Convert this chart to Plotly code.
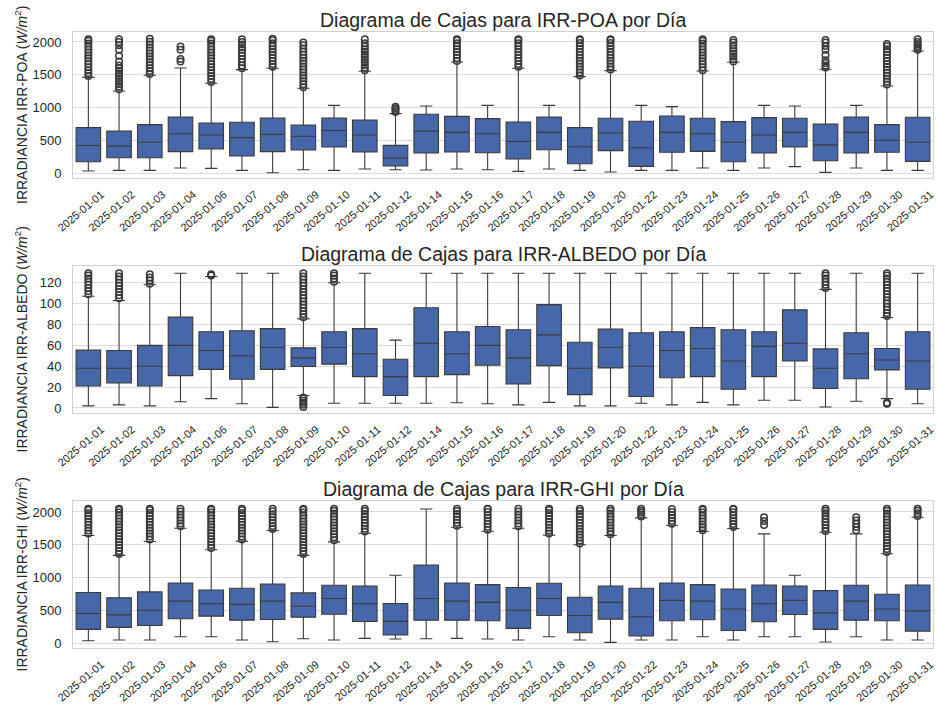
import plotly.graph_objects as go

days = ["2025-01-01", "2025-01-02", "2025-01-03", "2025-01-04", "2025-01-06", "2025-01-07",
        "2025-01-08", "2025-01-09", "2025-01-10", "2025-01-11", "2025-01-12", "2025-01-14",
        "2025-01-15", "2025-01-16", "2025-01-17", "2025-01-18", "2025-01-19", "2025-01-20",
        "2025-01-22", "2025-01-23", "2025-01-24", "2025-01-25", "2025-01-26", "2025-01-27",
        "2025-01-28", "2025-01-29", "2025-01-30", "2025-01-31"]

# ---------------- IRR-POA ----------------
poa_q1 = [173, 234, 234, 326, 366, 260, 326, 351, 397, 321, 107, 305, 321, 310, 214, 356, 142, 341,
          102, 316, 331, 173, 305, 397, 188, 305, 316, 178]
poa_med = [420, 410, 470, 600, 580, 540, 590, 560, 650, 580, 230, 640, 620, 600, 480, 620, 400, 610,
           385, 620, 600, 470, 580, 620, 430, 620, 500, 470]
poa_q3 = [692, 641, 738, 855, 763, 774, 840, 733, 840, 809, 422, 896, 865, 830, 779, 855, 692, 835,
          789, 870, 835, 784, 845, 835, 748, 855, 738, 850]
poa_low = [30, 41, 41, 76, 71, 41, 5, 51, 41, 61, 51, 46, 61, 51, 25, 61, 41, 15,
           41, 41, 76, 41, 76, 97, 10, 76, 41, 41]
poa_high = [1460, 1252, 1491, 1603, 1369, 1578, 1598, 1293, 1033, 1552, 906, 1023, 1695, 1033, 1598,
            1033, 1471, 1562, 1033, 1013, 1557, 1690, 1033, 1023, 1583, 1033, 1328, 1863]
poa_out = {
    "2025-01-01": [1480, 1525, 1570, 1615, 1660, 1705, 1750, 1795, 1840, 1885, 1930, 1975, 2020, 2040],
    "2025-01-02": [1280, 1320, 1360, 1400, 1440, 1480, 1520, 1560, 1600, 1640, 1700, 1790, 1880, 1950, 2000, 2040],
    "2025-01-03": [1510, 1555, 1600, 1645, 1690, 1735, 1780, 1825, 1870, 1915, 1960, 2005, 2050],
    "2025-01-04": [1700, 1740, 1880, 1930],
    "2025-01-06": [1390, 1435, 1480, 1525, 1570, 1615, 1660, 1705, 1750, 1795, 1840, 1885, 1930, 1975, 2020, 2040],
    "2025-01-07": [1600, 1640, 1690, 1740, 1790, 1830, 1880, 1920, 1960, 2000, 2040],
    "2025-01-08": [1620, 1665, 1710, 1755, 1800, 1845, 1890, 1935, 1980, 2025, 2050],
    "2025-01-09": [1310, 1355, 1400, 1445, 1490, 1535, 1580, 1625, 1670, 1715, 1760, 1805, 1850, 1900, 1950, 1990],
    "2025-01-11": [1570, 1610, 1650, 1690, 1730, 1770, 1810, 1850, 1890, 1930, 1980, 2040],
    "2025-01-12": [930, 960, 990, 1010],
    "2025-01-15": [1710, 1755, 1800, 1845, 1890, 1935, 1980, 2025, 2040],
    "2025-01-17": [1620, 1665, 1710, 1755, 1800, 1845, 1890, 1935, 1980, 2025, 2040],
    "2025-01-19": [1490, 1535, 1580, 1625, 1670, 1715, 1760, 1805, 1850, 1895, 1940, 1985, 2030, 2040],
    "2025-01-20": [1580, 1625, 1670, 1715, 1760, 1805, 1850, 1895, 1940, 1985, 2030, 2040],
    "2025-01-24": [1570, 1615, 1660, 1705, 1750, 1795, 1840, 1885, 1930, 1975, 2020, 2040],
    "2025-01-25": [1700, 1740, 1780, 1820, 1860, 1900, 1950, 1990, 2030],
    "2025-01-28": [1610, 1640, 1680, 1720, 1800, 1880, 1940, 1990, 2030],
    "2025-01-30": [1350, 1395, 1440, 1485, 1530, 1575, 1620, 1665, 1710, 1755, 1800, 1845, 1890, 1935, 1970],
    "2025-01-31": [1880, 1910, 1940, 1970, 2000, 2040],
}

# ---------------- IRR-ALBEDO ----------------
alb_q1 = [21, 24, 21, 31, 37, 27.5, 37, 39.7, 42, 30, 12, 30, 32, 41, 23, 40.6, 12.8, 38.4,
          11, 29, 30, 18, 30, 45, 18.6, 28, 36.5, 18]
alb_med = [38, 38, 40, 60, 55, 50, 58, 48, 58, 52, 30, 62, 52, 60, 48, 70, 38, 58,
           40, 55, 57, 45, 59, 62, 38, 52, 46, 45]
alb_q3 = [55.4, 55, 60, 87, 73, 74, 76, 57.6, 73, 76, 46.7, 96, 73, 78, 75, 99, 63, 75.5,
          72, 73, 77, 75, 73, 94, 56.6, 72, 57, 73]
alb_low = [2, 3, 2, 6, 9, 4, 0.6, 12, 4.5, 4.5, 4.5, 4.5, 5, 4, 3, 5.4, 2, 2,
           4.5, 3, 5.4, 3, 7.4, 7.4, 1, 6.4, 9, 4]
alb_high = [107, 103, 118, 129, 126, 129, 129, 85.4, 120, 129, 65, 129, 129, 129, 129, 129, 129, 129,
            129, 129, 129, 129, 129, 129, 113.6, 129, 86.7, 129]
alb_out = {
    "2025-01-01": [109, 112, 115, 118, 121, 124, 127, 129],
    "2025-01-02": [105, 108, 111, 114, 117, 120, 123, 126, 129],
    "2025-01-03": [119, 122, 125, 128],
    "2025-01-06": [127, 128],
    "2025-01-09": [1, 3, 5, 7, 9, 10, 87, 90, 93, 96, 99, 102, 105, 108, 111, 114, 117, 120, 123, 126, 129],
    "2025-01-10": [121, 124, 127, 129],
    "2025-01-28": [115, 118, 121, 124, 127, 129],
    "2025-01-30": [4, 5, 88, 91, 94, 97, 100, 103, 106, 109, 112, 115, 118, 121, 124, 127, 129],
}

# ---------------- IRR-GHI ----------------
ghi_q1 = [208, 238, 268, 370, 410, 349, 360, 395, 440, 329, 122, 349, 349, 339, 223, 420, 157, 365,
          106, 339, 354, 192, 324, 435, 208, 349, 339, 182]
ghi_med = [450, 430, 500, 640, 600, 590, 640, 560, 680, 600, 330, 680, 640, 620, 500, 680, 420, 620,
           400, 650, 640, 520, 600, 650, 460, 640, 520, 490]
ghi_q3 = [770, 689, 780, 916, 810, 835, 901, 765, 881, 871, 603, 1190, 916, 891, 846, 911, 699, 871,
          835, 916, 891, 825, 886, 871, 800, 881, 744, 886]
ghi_low = [35, 46, 46, 96, 96, 46, 20, 66, 46, 71, 61, 66, 71, 61, 46, 96, 46, 10,
           46, 46, 96, 46, 96, 96, 15, 96, 46, 46]
ghi_high = [1640, 1337, 1549, 1752, 1423, 1554, 1716, 1337, 1544, 1676, 1033, 2045, 1767, 1706, 1752,
            1646, 1499, 1641, 1909, 1797, 1701, 1747, 1666, 1033, 1691, 1666, 1362, 1919]
ghi_out = {
    "2025-01-01": [1670, 1715, 1760, 1805, 1850, 1895, 1940, 1985, 2030, 2050],
    "2025-01-02": [1360, 1405, 1450, 1495, 1540, 1585, 1630, 1675, 1720, 1765, 1810, 1855, 1900, 1945, 1990, 2035, 2050],
    "2025-01-03": [1580, 1625, 1670, 1715, 1760, 1805, 1850, 1895, 1940, 1985, 2030, 2050],
    "2025-01-04": [1780, 1825, 1870, 1915, 1960, 2005, 2050],
    "2025-01-06": [1450, 1495, 1540, 1585, 1630, 1675, 1720, 1765, 1810, 1855, 1900, 1945, 1990, 2035, 2050],
    "2025-01-07": [1580, 1625, 1670, 1715, 1760, 1805, 1850, 1895, 1940, 1985, 2030, 2050],
    "2025-01-08": [1740, 1785, 1830, 1875, 1920, 1965, 2010, 2050],
    "2025-01-09": [1360, 1405, 1450, 1495, 1540, 1585, 1630, 1675, 1720, 1765, 1810, 1855, 1900, 1945, 1990, 2035, 2050],
    "2025-01-10": [1570, 1615, 1660, 1705, 1750, 1795, 1840, 1885, 1930, 1975, 2020, 2050],
    "2025-01-11": [1700, 1745, 1790, 1835, 1880, 1925, 1970, 2015, 2050],
    "2025-01-15": [1790, 1835, 1880, 1925, 1970, 2015, 2050],
    "2025-01-16": [1730, 1775, 1820, 1865, 1910, 1955, 2000, 2045, 2050],
    "2025-01-17": [1780, 1825, 1870, 1915, 1960, 2005, 2050],
    "2025-01-18": [1670, 1715, 1760, 1805, 1850, 1895, 1940, 1985, 2030, 2050],
    "2025-01-19": [1520, 1565, 1610, 1655, 1700, 1745, 1790, 1835, 1880, 1925, 1970, 2015, 2050],
    "2025-01-20": [1660, 1705, 1750, 1795, 1840, 1885, 1930, 1975, 2020, 2050],
    "2025-01-22": [1930, 1960, 1990, 2020, 2050],
    "2025-01-23": [1820, 1865, 1910, 1955, 2000, 2045],
    "2025-01-24": [1720, 1765, 1810, 1855, 1900, 1945, 1990, 2035, 2050],
    "2025-01-25": [1770, 1815, 1860, 1905, 1950, 1995, 2040, 2050],
    "2025-01-26": [1800, 1860, 1920],
    "2025-01-28": [1710, 1755, 1800, 1845, 1890, 1935, 1980, 2020, 2050],
    "2025-01-29": [1720, 1770, 1820, 1870, 1920],
    "2025-01-30": [1390, 1435, 1480, 1525, 1570, 1615, 1660, 1705, 1750, 1795, 1840, 1885, 1930, 1975, 2020, 2050],
    "2025-01-31": [1940, 1980, 2020, 2050],
}

titles = ["Diagrama de Cajas para IRR-POA por Día",
          "Diagrama de Cajas para IRR-ALBEDO por Día",
          "Diagrama de Cajas para IRR-GHI por Día"]
ylabels = ["IRRADIANCIA IRR-POA (<i>W/m</i><sup>2</sup>)",
           "IRRADIANCIA IRR-ALBEDO (<i>W/m</i><sup>2</sup>)",
           "IRRADIANCIA IRR-GHI (<i>W/m</i><sup>2</sup>)"]

W, H = 936, 706
FONT = "Liberation Sans, Arial, sans-serif"
TXT = "#262626"
FILL = "#4767ab"
EDGE = "#3a3a3a"

# pixel geometry of the panels (top, bottom)
x_left, x_right = 73, 933
panels_px = [(32, 178), (266, 413), (501, 648)]
yranges = [[-76, 2152], [-4.8, 136], [-76, 2167]]
yticks = [[0, 500, 1000, 1500, 2000], [0, 20, 40, 60, 80, 100, 120], [0, 500, 1000, 1500, 2000]]

series = [
    (poa_q1, poa_med, poa_q3, poa_low, poa_high, poa_out),
    (alb_q1, alb_med, alb_q3, alb_low, alb_high, alb_out),
    (ghi_q1, ghi_med, ghi_q3, ghi_low, ghi_high, ghi_out),
]

fig = go.Figure()
layout = dict(
    width=W, height=H, margin=dict(l=0, r=0, t=0, b=0),
    paper_bgcolor="white", plot_bgcolor="white",
    showlegend=False, font=dict(family=FONT, color=TXT),
)
annotations = []

for i, (q1, med, q3, lo, hi, out) in enumerate(series):
    n = "" if i == 0 else str(i + 1)
    xa, ya = "x" + n, "y" + n
    fig.add_trace(go.Box(
        x=days, q1=q1, median=med, q3=q3, lowerfence=lo, upperfence=hi,
        xaxis=xa, yaxis=ya, width=0.8, whiskerwidth=0.5,
        fillcolor=FILL, line=dict(color=EDGE, width=1.1), boxpoints=False,
        hoverinfo="skip",
    ))
    ox, oy = [], []
    for d in days:
        for v in out.get(d, []):
            ox.append(d)
            oy.append(v)
    fig.add_trace(go.Scatter(
        x=ox, y=oy, mode="markers", xaxis=xa, yaxis=ya,
        marker=dict(symbol="circle-open", size=6.5, color=EDGE, line=dict(width=1.5, color=EDGE)),
        hoverinfo="skip",
    ))
    top, bot = panels_px[i]
    dom_y = [1 - bot / H, 1 - top / H]
    dom_x = [x_left / W, x_right / W]
    layout["xaxis" + n] = dict(
        domain=dom_x, anchor=ya, type="category",
        categoryorder="array", categoryarray=days, range=[-0.5, len(days) - 0.5],
        showgrid=False, showline=True, mirror=True, linecolor="#d0d0d0", linewidth=1,
        ticks="", tickangle=-40, tickfont=dict(size=11, color=TXT, family=FONT),
        ticklabelshift=13, ticklabelstandoff=5, automargin=False, zeroline=False,
    )
    layout["yaxis" + n] = dict(
        domain=dom_y, anchor=xa, range=yranges[i], tickvals=yticks[i],
        showgrid=True, gridcolor="#dcdcdc", gridwidth=1,
        showline=True, mirror=True, linecolor="#d0d0d0", linewidth=1,
        ticks="", tickfont=dict(size=13, color=TXT, family=FONT),
        ticklabelstandoff=8, automargin=False, zeroline=False,
    )
    annotations.append(dict(
        text=titles[i], xref="paper", yref="paper",
        x=(dom_x[0] + dom_x[1]) / 2, y=dom_y[1], xanchor="center", yanchor="bottom",
        yshift=-1, showarrow=False, font=dict(size=19.5, color=TXT, family=FONT),
    ))
    annotations.append(dict(
        text=ylabels[i], xref="paper", yref="paper",
        x=21 / W, y=(dom_y[0] + dom_y[1]) / 2, xanchor="center", yanchor="middle",
        textangle=-90, showarrow=False, font=dict(size=14, color=TXT, family=FONT),
    ))

layout["annotations"] = annotations
fig.update_layout(**layout)
fig.write_html(
    "out.html",
    config={"displayModeBar": False},
    post_script="document.body.style.margin='0';document.body.style.padding='0';",
)
